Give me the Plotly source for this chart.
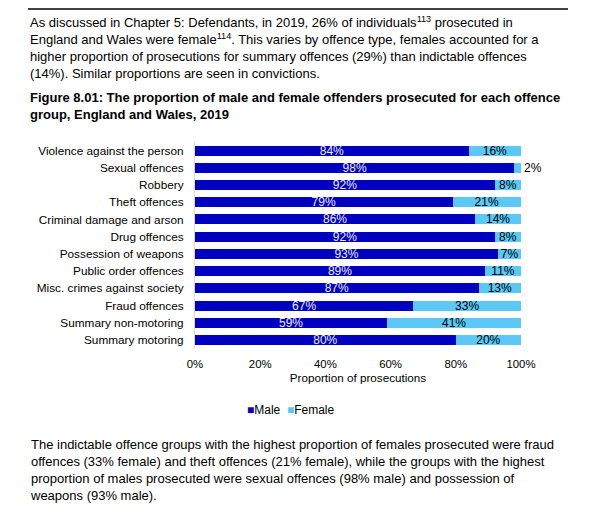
import plotly.graph_objects as go

# offence groups, top to bottom as in the figure
offence_groups = [
    "Violence against the person",
    "Sexual offences",
    "Robbery",
    "Theft offences",
    "Criminal damage and arson",
    "Drug offences",
    "Possession of weapons",
    "Public order offences",
    "Misc. crimes against society",
    "Fraud offences",
    "Summary non-motoring",
    "Summary motoring",
]
male_pct = [84, 98, 92, 79, 86, 92, 93, 89, 87, 67, 59, 80]
female_pct = [16, 2, 8, 21, 14, 8, 7, 11, 13, 33, 41, 20]
x_ticks = [0, 20, 40, 60, 80, 100]

MALE = "#0000C0"
FEMALE = "#5BC8F5"
FONT = "Arial, Liberation Sans, sans-serif"

# page is 600x516, the body keeps an 8px margin round the figure
PAGE_W, PAGE_H = 600, 516
PAD = 8
W, H = PAGE_W - 2 * PAD, PAGE_H - 2 * PAD


def px_x(p):
    # page pixel -> paper x
    return (p - PAD) / W


def px_y(p):
    # page pixel -> paper y
    return 1 - (p - PAD) / H


fig = go.Figure()

fig.add_trace(go.Bar(
    y=offence_groups,
    x=male_pct,
    orientation="h",
    name="Male",
    marker=dict(color=MALE, line=dict(width=0)),
    text=[f"{v}%" for v in male_pct],
    textposition="inside",
    insidetextanchor="middle",
    textfont=dict(color="#ECECFF", size=12, family=FONT),
    constraintext="none",
    hoverinfo="skip",
))

# small female shares that do not fit go outside the bar
female_pos = ["outside" if v < 5 else "inside" for v in female_pct]
fig.add_trace(go.Bar(
    y=offence_groups,
    x=female_pct,
    orientation="h",
    name="Female",
    marker=dict(color=FEMALE, line=dict(width=0)),
    text=[f"{v}%" for v in female_pct],
    textposition=female_pos,
    insidetextanchor="middle",
    textfont=dict(color="#000000", size=12, family=FONT),
    outsidetextfont=dict(color="#000000", size=12, family=FONT),
    constraintext="none",
    cliponaxis=False,
    hoverinfo="skip",
))

intro = (
    "As discussed in Chapter 5: Defendants, in 2019, 26% of individuals<sup>113</sup> prosecuted in<br>"
    "England and Wales were female<sup>114</sup>. This varies by offence type, females accounted for a<br>"
    "higher proportion of prosecutions for summary offences (29%) than indictable offences<br>"
    "(14%). Similar proportions are seen in convictions."
)
title = (
    "<b>Figure 8.01: The proportion of male and female offenders prosecuted for each offence<br>"
    "group, England and Wales, 2019</b>"
)
outro = (
    "The indictable offence groups with the highest proportion of females prosecuted were fraud<br>"
    "offences (33% female) and theft offences (21% female), while the groups with the highest<br>"
    "proportion of males prosecuted were sexual offences (98% male) and possession of<br>"
    "weapons (93% male)."
)

fig.add_annotation(text=intro, x=px_x(28), y=px_y(12), xref="paper", yref="paper",
                   xanchor="left", yanchor="top", align="left", showarrow=False,
                   font=dict(family=FONT, size=13, color="#000000"))
fig.add_annotation(text=title, x=px_x(28), y=px_y(88), xref="paper", yref="paper",
                   xanchor="left", yanchor="top", align="left", showarrow=False,
                   font=dict(family=FONT, size=13, color="#000000"))
fig.add_annotation(text=outro, x=px_x(28), y=px_y(435), xref="paper", yref="paper",
                   xanchor="left", yanchor="top", align="left", showarrow=False,
                   font=dict(family=FONT, size=13, color="#000000"))

# legend drawn as a compact text row, as in the source figure
legend_row = (
    f"<span style='color:{MALE}'>■</span>Male  "
    f"<span style='color:{FEMALE}'>■</span>Female"
)
fig.add_annotation(text=legend_row, x=px_x(291), y=px_y(410), xref="paper", yref="paper",
                   xanchor="center", yanchor="middle", showarrow=False,
                   font=dict(family=FONT, size=12, color="#000000"))

# rule above the text
fig.add_shape(type="line", xref="paper", yref="paper",
              x0=px_x(28), x1=px_x(568), y0=px_y(9), y1=px_y(9),
              line=dict(color="#000000", width=1.5))

fig.update_layout(
    width=W, height=H,
    margin=dict(l=0, r=0, t=0, b=0),
    paper_bgcolor="white",
    plot_bgcolor="white",
    barmode="stack",
    bargap=0.42,
    font=dict(family=FONT, size=12, color="#000000"),
    showlegend=False,
    xaxis=dict(
        domain=[px_x(195), px_x(521)],
        range=[0, 100],
        automargin=False,
        tickvals=x_ticks,
        ticktext=[f"{t}%" for t in x_ticks],
        showgrid=False,
        zeroline=False,
        showline=False,
        ticks="outside",
        ticklen=5,
        tickcolor="rgba(0,0,0,0)",
        tickfont=dict(size=11.4),
        title=dict(text="Proportion of prosecutions", font=dict(size=11.7), standoff=4),
        anchor="y",
    ),
    yaxis=dict(
        domain=[px_y(348.6), px_y(142)],
        autorange="reversed",
        automargin=False,
        showgrid=False,
        zeroline=False,
        showline=True,
        linecolor="#D9D9D9",
        linewidth=1,
        ticks="outside",
        ticklen=8,
        tickcolor="rgba(0,0,0,0)",
        tickfont=dict(size=11.8),
    ),
)

fig.write_html("out.html")
